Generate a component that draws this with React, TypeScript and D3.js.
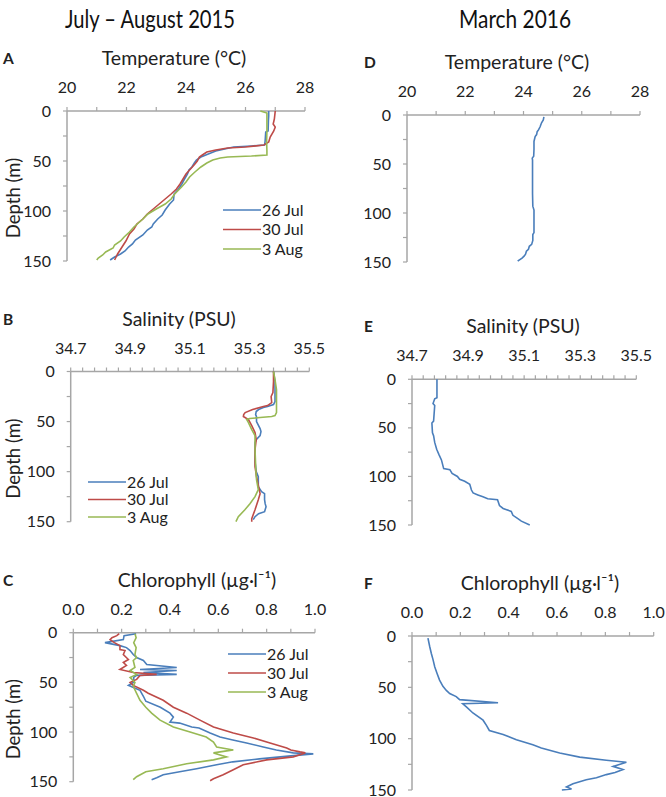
import React from "react";
import * as d3 from "d3";

const FONT = "Lato, 'Open Sans', sans-serif";
const AXIS = "#A6A6A6";
const BLUE = "#4A7EBB";
const RED = "#BE4B48";
const GREEN = "#98B954";

const SERIES_LABELS = ["26 Jul", "30 Jul", "3 Aug"];
const HEADERS = ["July – August 2015", "March 2016"];
const Y_TICKS = [0, 50, 100, 150];
const Y_MINOR = [0, 25, 50, 75, 100, 125, 150];

// ---- Temperature, July–August 2015 ----
const tJul26Depth = [0, 5, 10, 20, 21, 30, 34, 35, 36, 38, 40, 43, 46, 49, 52, 56, 59, 63, 68, 73, 78, 83, 89, 93, 99, 104, 108, 113, 116, 119, 124, 129, 133, 136, 140, 143, 146, 149];
const tJul26Val = [26.78, 26.78, 26.77, 26.76, 26.68, 26.66, 26.64, 26.2, 25.6, 25.3, 25.0, 24.75, 24.5, 24.35, 24.28, 24.2, 24.1, 24.05, 23.95, 23.86, 23.75, 23.6, 23.58, 23.45, 23.3, 23.2, 23.05, 22.9, 22.85, 22.7, 22.55, 22.3, 22.2, 22.07, 21.95, 21.8, 21.6, 21.45];
const tJul30Depth = [0, 8, 13, 16, 20, 26, 31, 34, 36, 37, 39, 41, 44, 46, 50, 53, 58, 63, 68, 73, 78, 83, 88, 93, 98, 103, 108, 113, 118, 123, 130, 136, 143, 149];
const tJul30Val = [27.0, 26.97, 26.93, 27.0, 26.95, 26.83, 26.78, 26.62, 26.0, 25.4, 25.0, 24.7, 24.55, 24.45, 24.38, 24.3, 24.15, 24.0, 23.9, 23.8, 23.68, 23.5, 23.3, 23.1, 22.9, 22.7, 22.55, 22.35, 22.25, 22.1, 21.98, 21.85, 21.7, 21.6];
const tAug3Depth = [0, 2, 10, 20, 30, 40, 44, 45, 46, 47, 49, 52, 56, 61, 66, 71, 76, 83, 88, 93, 98, 103, 108, 112, 116, 121, 126, 130, 134, 137, 141, 144, 147, 149];
const tAug3Val = [26.5, 26.72, 26.72, 26.72, 26.71, 26.72, 26.72, 26.2, 25.4, 25.15, 24.9, 24.7, 24.5, 24.3, 24.12, 24.0, 23.85, 23.62, 23.5, 23.3, 23.0, 22.72, 22.55, 22.4, 22.25, 22.1, 21.92, 21.8, 21.6, 21.55, 21.3, 21.2, 21.05, 21.0];

// ---- Temperature, March 2016 ----
const tMarDepth = [2, 5, 8, 12, 15, 17, 20, 22, 27, 35, 42, 44, 46, 60, 80, 93, 97, 110, 120, 122, 128, 132, 134, 137, 139, 142, 144, 146, 148, 149];
const tMarVal = [24.7, 24.68, 24.62, 24.57, 24.52, 24.47, 24.45, 24.4, 24.36, 24.36, 24.35, 24.3, 24.31, 24.31, 24.31, 24.32, 24.36, 24.36, 24.36, 24.32, 24.32, 24.28, 24.2, 24.17, 24.1, 24.07, 24.02, 23.95, 23.85, 23.8];

// ---- Salinity, July–August 2015 ----
const sJul26Depth = [0, 10, 20, 30, 33, 35, 36, 38, 40, 43, 45, 50, 57, 60, 64, 68, 71, 80, 90, 100, 105, 115, 120, 122, 128, 132, 135, 140, 142, 145, 148];
const sJul26Val = [35.38, 35.385, 35.385, 35.385, 35.38, 35.36, 35.346, 35.33, 35.322, 35.32, 35.323, 35.323, 35.335, 35.338, 35.335, 35.322, 35.318, 35.318, 35.318, 35.322, 35.329, 35.329, 35.34, 35.35, 35.35, 35.352, 35.355, 35.35, 35.33, 35.318, 35.312];
const sJul30Depth = [0, 10, 21, 25, 31, 34, 35, 38, 41, 43, 45, 48, 54, 61, 68, 78, 95, 105, 115, 122, 128, 138, 147, 150];
const sJul30Val = [35.38, 35.38, 35.378, 35.372, 35.374, 35.36, 35.346, 35.31, 35.285, 35.28, 35.279, 35.296, 35.307, 35.318, 35.322, 35.318, 35.318, 35.323, 35.33, 35.335, 35.329, 35.318, 35.307, 35.307];
const sAug3Depth = [0, 8, 18, 25, 41, 44, 45, 46, 47, 48, 51, 58, 64, 78, 100, 108, 118, 125, 132, 138, 145, 150];
const sAug3Val = [35.38, 35.385, 35.39, 35.39, 35.39, 35.385, 35.374, 35.335, 35.3, 35.29, 35.296, 35.307, 35.318, 35.318, 35.321, 35.323, 35.329, 35.318, 35.301, 35.284, 35.262, 35.254];

// ---- Salinity, March 2016 ----
const sMarDepth = [0, 19, 20, 25, 27, 43, 45, 55, 58, 65, 72, 78, 83, 92, 93, 97, 100, 103, 105, 108, 114, 117, 119, 121, 123, 124, 130, 133, 136, 140, 143, 146, 150];
const sMarVal = [34.789, 34.789, 34.781, 34.775, 34.781, 34.777, 34.771, 34.773, 34.777, 34.781, 34.788, 34.797, 34.805, 34.813, 34.835, 34.843, 34.862, 34.87, 34.888, 34.906, 34.912, 34.918, 34.935, 34.953, 34.97, 35.005, 35.012, 35.025, 35.054, 35.06, 35.075, 35.09, 35.12];

// ---- Chlorophyll, July–August 2015 ----
const cJul26Depth = [1, 3, 7, 10, 13, 15, 18, 22, 25, 28, 32, 35, 37, 38, 40, 42, 43, 45, 48, 50, 53, 58, 64, 69, 75, 81, 85, 90, 91, 95, 96, 101, 105, 108, 111, 115, 118, 121, 122, 124, 127, 130, 133, 137, 140, 143, 146, 148];
const cJul26Val = [0.26, 0.21, 0.207, 0.131, 0.193, 0.22, 0.235, 0.248, 0.262, 0.29, 0.304, 0.428, 0.276, 0.428, 0.29, 0.428, 0.262, 0.25, 0.25, 0.248, 0.228, 0.276, 0.29, 0.3, 0.36, 0.4, 0.414, 0.4, 0.44, 0.49, 0.52, 0.566, 0.607, 0.66, 0.717, 0.786, 0.84, 0.91, 0.993, 0.9, 0.77, 0.66, 0.593, 0.51, 0.44, 0.372, 0.345, 0.324];
const cJul30Depth = [1, 3, 5, 7, 10, 13, 17, 18, 22, 27, 30, 33, 37, 40, 42, 43, 47, 50, 53, 58, 61, 68, 75, 81, 88, 95, 101, 106, 111, 116, 118, 120, 121, 125, 128, 133, 138, 143, 147, 149];
const cJul30Val = [0.19, 0.18, 0.16, 0.152, 0.17, 0.193, 0.193, 0.214, 0.207, 0.228, 0.207, 0.22, 0.193, 0.248, 0.345, 0.276, 0.262, 0.235, 0.248, 0.29, 0.31, 0.372, 0.414, 0.469, 0.524, 0.58, 0.662, 0.745, 0.814, 0.883, 0.9, 0.938, 0.96, 0.91, 0.8, 0.703, 0.662, 0.62, 0.58, 0.566];
const cAug3Depth = [1, 5, 10, 15, 22, 25, 28, 35, 38, 42, 45, 50, 54, 61, 68, 75, 81, 88, 95, 100, 105, 110, 115, 118, 121, 125, 128, 132, 137, 140, 145, 148];
const cAug3Val = [0.255, 0.26, 0.25, 0.26, 0.255, 0.262, 0.248, 0.255, 0.235, 0.262, 0.235, 0.255, 0.248, 0.262, 0.276, 0.3, 0.324, 0.359, 0.414, 0.483, 0.55, 0.58, 0.593, 0.662, 0.58, 0.634, 0.58, 0.469, 0.372, 0.3, 0.262, 0.248];

// ---- Chlorophyll, March 2016 ----
const cMarDepth = [2, 10, 17, 23, 30, 36, 43, 49, 53, 56, 59, 62, 65, 66, 69, 75, 82, 87, 92, 96, 101, 106, 109, 114, 118, 121, 123, 127, 130, 133, 135, 138, 140, 144, 147, 149, 150];
const cMarVal = [0.066, 0.073, 0.08, 0.087, 0.094, 0.103, 0.114, 0.128, 0.142, 0.156, 0.183, 0.197, 0.356, 0.21, 0.225, 0.252, 0.294, 0.308, 0.32, 0.377, 0.432, 0.5, 0.535, 0.611, 0.694, 0.804, 0.887, 0.832, 0.873, 0.84, 0.804, 0.763, 0.721, 0.666, 0.639, 0.66, 0.62];

type Series = { depth: number[]; values: number[]; color: string };
type Panel = {
  letter: string;
  title: string;
  titleX: number;
  x0: number; x1: number; y0: number; y1: number;
  domain: [number, number];
  major: number; minor: number; decimals: number;
  series: Series[];
  yTitle: boolean;
  letterX: number;
  legend?: { x: number; y: number; dy: number };
};

const PANELS: Panel[] = [
  { letter: "A", title: "Temperature (°C)", titleX: 174, x0: 67, x1: 305, y0: 111, y1: 261, domain: [20, 28], major: 2, minor: 1, decimals: 0,
    series: [{ depth: tJul26Depth, values: tJul26Val, color: BLUE }, { depth: tJul30Depth, values: tJul30Val, color: RED }, { depth: tAug3Depth, values: tAug3Val, color: GREEN }],
    yTitle: true, letterX: 3, legend: { x: 223, y: 210, dy: 19.5 } },
  { letter: "B", title: "Salinity (PSU)", titleX: 179, x0: 70.7, x1: 309.3, y0: 371.5, y1: 521.7, domain: [34.7, 35.5], major: 0.2, minor: 0.04, decimals: 1,
    series: [{ depth: sJul26Depth, values: sJul26Val, color: BLUE }, { depth: sJul30Depth, values: sJul30Val, color: RED }, { depth: sAug3Depth, values: sAug3Val, color: GREEN }],
    yTitle: true, letterX: 3, legend: { x: 88, y: 482, dy: 17.5 } },
  { letter: "C", title: "Chlorophyll (µg·l⁻¹)", titleX: 197, x0: 73.3, x1: 315, y0: 632.7, y1: 781.7, domain: [0, 1], major: 0.2, minor: 0.1, decimals: 1,
    series: [{ depth: cJul26Depth, values: cJul26Val, color: BLUE }, { depth: cJul30Depth, values: cJul30Val, color: RED }, { depth: cAug3Depth, values: cAug3Val, color: GREEN }],
    yTitle: true, letterX: 3, legend: { x: 228, y: 654, dy: 19 } },
  { letter: "D", title: "Temperature (°C)", titleX: 517, x0: 407, x1: 640, y0: 115, y1: 262, domain: [20, 28], major: 2, minor: 1, decimals: 0,
    series: [{ depth: tMarDepth, values: tMarVal, color: BLUE }], yTitle: false, letterX: 364 },
  { letter: "E", title: "Salinity (PSU)", titleX: 523, x0: 412, x1: 636.3, y0: 379.3, y1: 525, domain: [34.7, 35.5], major: 0.2, minor: 0.04, decimals: 1,
    series: [{ depth: sMarDepth, values: sMarVal, color: BLUE }], yTitle: false, letterX: 364 },
  { letter: "F", title: "Chlorophyll (µg·l⁻¹)", titleX: 540, x0: 412, x1: 653.7, y0: 636, y1: 790, domain: [0, 1], major: 0.2, minor: 0.1, decimals: 1,
    series: [{ depth: cMarDepth, values: cMarVal, color: BLUE }], yTitle: false, letterX: 364 },
];

function PanelView({ p }: { p: Panel }) {
  const x = d3.scaleLinear().domain(p.domain).range([p.x0, p.x1]);
  const y = d3.scaleLinear().domain([0, 150]).range([p.y0, p.y1]);
  const nMinor = Math.round((p.domain[1] - p.domain[0]) / p.minor);
  const minorTicks = d3.range(nMinor + 1).map((i) => p.domain[0] + i * p.minor);
  const nMajor = Math.round((p.domain[1] - p.domain[0]) / p.major);
  const majorTicks = d3.range(nMajor + 1).map((i) => p.domain[0] + i * p.major);
  const line = d3.line<[number, number]>().x((d) => x(d[1])).y((d) => y(d[0]));
  return (
    <g>
      <text x={p.letterX} y={p.y0 - 47} fontFamily={FONT} fontSize={15.5} fontWeight="bold" fill="#222">{p.letter}</text>
      <text x={p.titleX} y={p.y0 - 46} fontFamily={FONT} fontSize={19.5} textAnchor="middle" fill="#222">{p.title}</text>
      {majorTicks.map((v, i) => (
        <text key={"mx" + i} x={x(v)} y={p.y0 - 18} fontFamily={FONT} fontSize={16} textAnchor="middle" fill="#222">{v.toFixed(p.decimals)}</text>
      ))}
      {Y_TICKS.map((v) => (
        <text key={"my" + v} x={p.x0 - 16} y={y(v) + 5.5} fontFamily={FONT} fontSize={16} textAnchor="end" fill="#222">{v}</text>
      ))}
      {p.yTitle && (
        <text transform={`translate(${20},${(p.y0 + p.y1) / 2 + 12}) rotate(-90)`} fontFamily={FONT} fontSize={18.5} textAnchor="middle" fill="#222">Depth (m)</text>
      )}
      <line x1={p.x0} x2={p.x1} y1={p.y0} y2={p.y0} stroke={AXIS} strokeWidth={1.5} />
      <line x1={p.x0} x2={p.x0} y1={p.y0} y2={p.y1} stroke={AXIS} strokeWidth={1.5} />
      {minorTicks.map((v, i) => (
        <line key={"tx" + i} x1={x(v)} x2={x(v)} y1={p.y0} y2={p.y0 - 4} stroke={AXIS} strokeWidth={1.2} />
      ))}
      {Y_MINOR.map((v) => (
        <line key={"ty" + v} x1={p.x0} x2={p.x0 - 4} y1={y(v)} y2={y(v)} stroke={AXIS} strokeWidth={1.2} />
      ))}
      {p.series.map((s, i) => (
        <path key={"s" + i} d={line(s.depth.map((d, j) => [d, s.values[j]] as [number, number])) || ""} fill="none" stroke={s.color} strokeWidth={1.6} strokeLinejoin="miter" />
      ))}
      {p.legend && p.series.map((s, i) => (
        <g key={"lg" + i}>
          <line x1={p.legend!.x} x2={p.legend!.x + 38} y1={p.legend!.y + i * p.legend!.dy} y2={p.legend!.y + i * p.legend!.dy} stroke={s.color} strokeWidth={1.6} />
          <text x={p.legend!.x + 39} y={p.legend!.y + i * p.legend!.dy + 5.5} fontFamily={FONT} fontSize={16} fill="#222">{SERIES_LABELS[i]}</text>
        </g>
      ))}
    </g>
  );
}

export default function App() {
  return (
    <div style={{ position: "absolute", left: 0, top: 0, width: 666, height: 797, background: "#fff" }}>
      <svg width={666} height={797} style={{ display: "block" }}>
        <rect width={666} height={797} fill="#fff" />
        <text x={150} y={28} fontFamily={FONT} fontSize={25} textAnchor="middle" fill="#111" textLength={170} lengthAdjust="spacingAndGlyphs">{HEADERS[0]}</text>
        <text x={515} y={28} fontFamily={FONT} fontSize={25} textAnchor="middle" fill="#111" textLength={112} lengthAdjust="spacingAndGlyphs">{HEADERS[1]}</text>
        {PANELS.map((p) => (
          <PanelView key={p.letter} p={p} />
        ))}
      </svg>
    </div>
  );
}
